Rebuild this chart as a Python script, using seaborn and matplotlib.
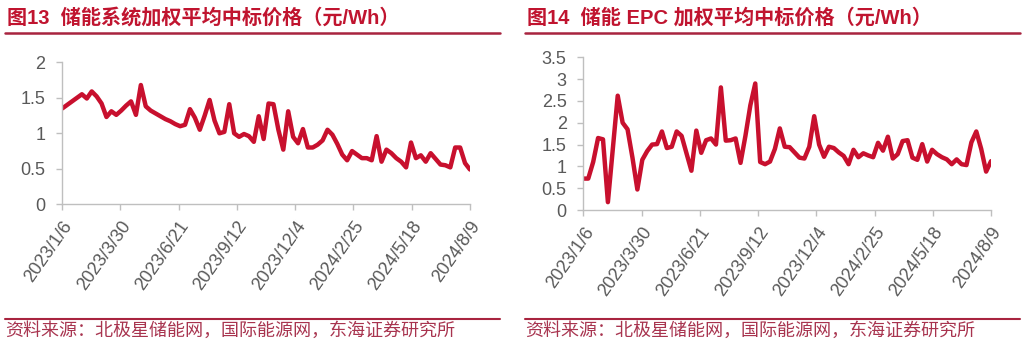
import matplotlib
matplotlib.use('Agg')
import matplotlib.pyplot as plt
from matplotlib.lines import Line2D
import pandas as pd
import seaborn as sns

# weekly observations, every Friday from 2023/1/6 to 2024/8/9
first_week = '2023-01-06'
last_week = '2024-08-09'

# 储能系统加权平均中标价格 (元/Wh)
system_price = [
    1.35, 1.40, 1.45, 1.50, 1.55, 1.49, 1.59, 1.52, 1.42, 1.23,
    1.31, 1.26, 1.32, 1.39, 1.45, 1.26, 1.68, 1.38, 1.32, 1.28,
    1.24, 1.20, 1.17, 1.13, 1.10, 1.12, 1.34, 1.22, 1.05, 1.25,
    1.47, 1.18, 1.00, 1.02, 1.41, 1.00, 0.95, 0.99, 0.96, 0.88,
    1.24, 0.92, 1.42, 1.41, 1.05, 0.77, 1.31, 0.95, 0.86, 1.06,
    0.80, 0.80, 0.84, 0.90, 1.05, 0.98, 0.85, 0.70, 0.62, 0.75,
    0.70, 0.65, 0.65, 0.62, 0.96, 0.60, 0.77, 0.72, 0.65, 0.60,
    0.52, 0.87, 0.65, 0.69, 0.60, 0.72, 0.64, 0.56, 0.55, 0.52,
    0.80, 0.80, 0.58, 0.49,
]

# 储能 EPC 加权平均中标价格 (元/Wh)
epc_price = [
    0.72, 0.72, 1.10, 1.65, 1.62, 0.18, 1.40, 2.62, 2.00, 1.85,
    1.20, 0.47, 1.15, 1.35, 1.50, 1.51, 1.80, 1.42, 1.45, 1.80,
    1.70, 1.30, 0.90, 1.82, 1.31, 1.60, 1.64, 1.50, 2.81, 1.59,
    1.60, 1.64, 1.08, 1.70, 2.40, 2.90, 1.10, 1.05, 1.11, 1.40,
    1.87, 1.45, 1.44, 1.32, 1.20, 1.18, 1.45, 2.15, 1.50, 1.22,
    1.45, 1.42, 1.32, 1.24, 1.05, 1.38, 1.21, 1.30, 1.25, 1.21,
    1.54, 1.36, 1.68, 1.18, 1.28, 1.58, 1.60, 1.20, 1.15, 1.51,
    1.11, 1.38, 1.28, 1.21, 1.16, 1.05, 1.16, 1.05, 1.03, 1.55,
    1.80, 1.40, 0.88, 1.12,
]

tick_labels = ['2023/1/6', '2023/3/30', '2023/6/21', '2023/9/12',
               '2023/12/4', '2024/2/25', '2024/5/18', '2024/8/9']

titles = ['图13  储能系统加权平均中标价格（元/Wh）',
          '图14  储能 EPC 加权平均中标价格（元/Wh）']
source = '资料来源：北极星储能网，国际能源网，东海证券研究所'

LINE = '#c8102e'
TITLE_RED = '#c0142f'
RULE = '#a8243f'
SRC = '#a8344f'
AXIS = '#bfbfbf'
TICK_TXT = '#595959'
FONTS = ['Liberation Sans', 'Noto Sans CJK SC']


def style_axis(ax, ymax):
    ax.set_xlim(pd.Timestamp(first_week), pd.Timestamp(last_week))
    ax.set_ylim(0, ymax)
    ax.set_yticks([i * 0.5 for i in range(int(ymax / 0.5) + 1)])
    ax.set_yticklabels([f'{v:g}' for v in ax.get_yticks()])
    ax.set_xticks(pd.to_datetime(tick_labels, format='%Y/%m/%d'))
    ax.set_xticklabels(tick_labels, rotation=55, ha='right',
                       rotation_mode='anchor')
    for s in ['top', 'right']:
        ax.spines[s].set_visible(False)
    for s in ['left', 'bottom']:
        ax.spines[s].set_color(AXIS)
        ax.spines[s].set_linewidth(1.0)
    ax.tick_params(colors=AXIS, labelcolor=TICK_TXT, labelsize=13,
                   length=4, width=1.0, direction='out')
    ax.tick_params(axis='y', pad=8)
    ax.tick_params(axis='x', pad=6)
    ax.set_xlabel('')
    ax.set_ylabel('')


def main():
    sns.set_style('ticks')
    plt.rcParams['font.family'] = FONTS

    weeks = pd.date_range(first_week, last_week, freq='7D')
    df = pd.DataFrame({'week': weeks, 'system': system_price, 'epc': epc_price})

    fig = plt.figure(figsize=(10.29, 3.52), dpi=100)
    ax1 = fig.add_axes([0.0605, 0.4196, 0.3962, 0.4034])
    ax2 = fig.add_axes([0.5669, 0.4034, 0.3962, 0.4338])

    sns.lineplot(data=df, x='week', y='system', ax=ax1, color=LINE,
                 linewidth=3.2, solid_joinstyle='round', solid_capstyle='round')
    sns.lineplot(data=df, x='week', y='epc', ax=ax2, color=LINE,
                 linewidth=3.2, solid_joinstyle='round', solid_capstyle='round')
    style_axis(ax1, 2.0)
    style_axis(ax2, 3.5)

    # titles, rules and source lines
    for x0, x1, title in [(5, 500, titles[0]), (525, 1020, titles[1])]:
        fig.text(x0 / 1029 + 0.002, 1 - 18 / 352, title, color=TITLE_RED,
                 fontsize=14.5, fontweight='bold', va='center', ha='left',
                 family=FONTS)
        fig.add_artist(Line2D([x0 / 1029, x1 / 1029], [1 - 33 / 352] * 2,
                              color=RULE, linewidth=1.8,
                              transform=fig.transFigure))
        fig.add_artist(Line2D([x0 / 1029, x1 / 1029], [1 - 319 / 352] * 2,
                              color=RULE, linewidth=1.5,
                              transform=fig.transFigure))
        fig.text(x0 / 1029, 1 - 331 / 352, source, color=SRC,
                 fontsize=13, va='center', ha='left', family=FONTS)

    fig.savefig('out.png', dpi=100)


if __name__ == '__main__':
    main()
